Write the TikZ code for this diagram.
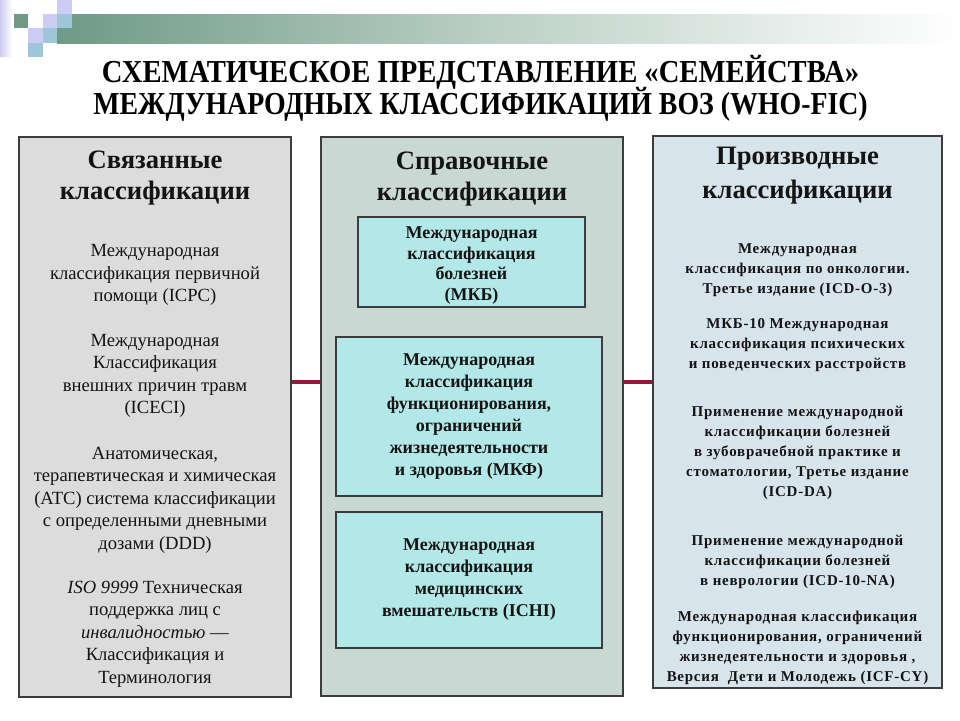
\documentclass[tikz,border=0pt]{standalone}
\usepackage{fontspec}
\setmainfont{Liberation Serif}
\newfontfamily\spacedserif[LetterSpace=5]{Liberation Serif}
\usetikzlibrary{calc}
\definecolor{bandgreen}{HTML}{6E9A86}
\definecolor{lav}{HTML}{CCCCF4}
\definecolor{lblue}{HTML}{9EC6D8}
\definecolor{leftfill}{HTML}{DCDCDC}
\definecolor{midfill}{HTML}{CAD8D3}
\definecolor{rightfill}{HTML}{D8E4EC}
\definecolor{turq}{HTML}{B2E8E8}
\definecolor{edgegrey}{HTML}{3C3C3C}
\definecolor{connred}{HTML}{8E1B38}
\definecolor{ink}{HTML}{141414}
\begin{document}
\begin{tikzpicture}[x=1pt,y=-1pt,
  panel/.style={draw=edgegrey, line width=1.6pt, inner sep=0pt},
  innerbox/.style={draw=edgegrey, fill=turq, line width=1.4pt, align=center, inner sep=0pt,
    text=ink, font=\bfseries\fontsize{18}{22}\selectfont},
  heading/.style={align=center, text=ink, font=\bfseries\fontsize{26.6}{31}\selectfont},
  lefttext/.style={align=center, text=ink, font=\fontsize{18.6}{22.5}\selectfont},
  righttext/.style={align=center, text=ink, font=\spacedserif\bfseries\fontsize{15}{20}\selectfont},
  titletext/.style={text=black, font=\bfseries\fontsize{32}{32}\selectfont, inner sep=0pt},
  conn/.style={draw=connred, line width=3.5pt}]
\useasboundingbox (0,0) rectangle (960,720);
\fill[white] (0,0) rectangle (960,720);
% corner decoration
\shade[left color=lav, right color=white] (0,0) rectangle (12,56);
\shade[left color=bandgreen, right color=white, middle color=bandgreen!45!white] (57,14) rectangle (960,43);
\fill[lav] (57,0) rectangle (72,14);
\fill[bandgreen] (14,14) rectangle (28,28);
\fill[lav] (43,14) rectangle (57,28);
\fill[lblue] (57,14) rectangle (72,28);
\fill[lav] (28,28) rectangle (43,43);
\fill[lblue] (43,28) rectangle (57,43);
\fill[lblue] (28,43) rectangle (43,57);
% title
\node[titletext] (T1) at (480.5,72) {\scalebox{0.895}[1]{СХЕМАТИЧЕСКОЕ ПРЕДСТАВЛЕНИЕ «СЕМЕЙСТВА»}};
\node[titletext] (T2) at (480.5,104) {\scalebox{0.87}[1]{МЕЖДУНАРОДНЫХ КЛАССИФИКАЦИЙ ВОЗ (WHO-FIC)}};
% panels
\node[panel, fill=leftfill, minimum width=272pt, minimum height=560pt] (L) at (155,417) {};
\node[panel, fill=midfill, minimum width=302pt, minimum height=559pt] (M) at (472,416.5) {};
\node[panel, fill=rightfill, minimum width=289pt, minimum height=552pt] (R) at (797.5,412) {};
% connectors
\coordinate (cl) at ([yshift=35pt]L.east);
\coordinate (cr) at (M.east |- cl);
\draw[conn] (cl) -- (M.west |- cl);
\draw[conn] (cr) -- (R.west |- cl);
% left column
\node[heading] (Lh) at (155,178) {Связанные\\классификации};
\node[lefttext] (L1) at (155,275) {Международная\\классификация первичной\\помощи (ICPC)};
\node[lefttext] (L2) at (155,376) {Международная\\Классификация\\внешних причин травм\\(ICECI)};
\node[lefttext] (L3) at (155,500) {Анатомическая,\\терапевтическая и химическая\\(ATC) система классификации\\с определенными дневными\\дозами (DDD)};
\node[lefttext] (L4) at (155,634) {\textit{ISO 9999} Техническая\\поддержка лиц с\\\textit{инвалидностью} —\\Классификация и\\Терминология};
% middle column
\node[heading] (Mh) at (472,179) {Справочные\\классификации};
\node[innerbox, minimum width=227pt, minimum height=90pt, font=\bfseries\fontsize{18}{20.8}\selectfont] (I1) at (471.5,262) {\rule{0pt}{19pt}Международная\\классификация\\болезней\\(МКБ)};
\node[innerbox, minimum width=266pt, minimum height=159pt] (I2) at (469,416.5) {Международная\\классификация\\функционирования,\\ограничений\\жизнедеятельности\\и здоровья (МКФ)};
\node[innerbox, minimum width=266pt, minimum height=136pt] (I3) at (469,580) {Международная\\классификация\\медицинских\\вмешательств (ICHI)};
% right column
\node[heading, font=\bfseries\fontsize{26.6}{34}\selectfont] (Rh) at (797.5,176) {Производные\\классификации};
\node[righttext] (R1) at (797.5,270) {Международная\\классификация по онкологии.\\Третье издание (ICD-O-3)};
\node[righttext] (R2) at (797.5,345) {МКБ-10 Международная\\классификация психических\\и поведенческих расстройств};
\node[righttext] (R3) at (797.5,452.5) {Применение международной\\классификации болезней\\в зубоврачебной практике и\\стоматологии, Третье издание\\(ICD-DA)};
\node[righttext] (R4) at (797.5,562) {Применение международной\\классификации болезней\\в неврологии (ICD-10-NA)};
\node[righttext] (R5) at (797.5,648) {Международная классификация\\функционирования, ограничений\\жизнедеятельности и здоровья ,\\Версия~ Дети и Молодежь (ICF-CY)};
\end{tikzpicture}
\end{document}
